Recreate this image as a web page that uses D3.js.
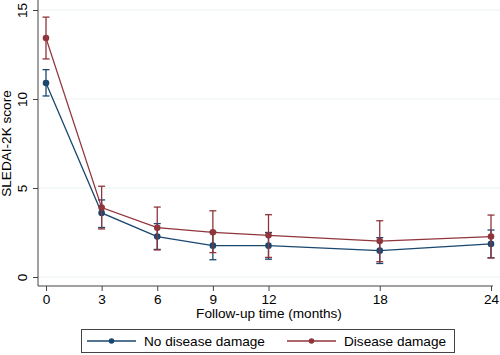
<!DOCTYPE html>
<html>
<head>
<meta charset="utf-8">
<script src="https://cdn.jsdelivr.net/npm/d3@7"></script>
<style>
  body { margin: 0; background: #fff; }
  svg { display: block; font-family: "Liberation Sans", Arial, sans-serif; }
</style>
</head>
<body>
<div id="chart"></div>
<script>
const months = [0, 3, 6, 9, 12, 18, 24];
const yTicks = [0, 5, 10, 15];

const noDamageMean = [10.9, 3.6, 2.27, 1.76, 1.76, 1.48, 1.86];
const noDamageLow  = [10.17, 2.78, 1.55, 0.97, 1.0, 0.76, 1.08];
const noDamageHigh = [11.65, 4.33, 3.0, 2.55, 2.5, 2.21, 2.64];

const damageMean = [13.42, 3.9, 2.77, 2.51, 2.34, 2.02, 2.27];
const damageLow  = [12.25, 2.7, 1.52, 1.37, 1.1, 0.86, 1.07];
const damageHigh = [14.6, 5.1, 3.93, 3.72, 3.5, 3.16, 3.48];

const seriesNames = ["No disease damage", "Disease damage"];
const colors = ["#1a476f", "#90353b"];

const W = 500, H = 355;
const fs = "13.6px";
const svg = d3.select("#chart").append("svg")
  .attr("width", W).attr("height", H);

const axisX = 38, axisY = 286;
const x = d3.scaleLinear().domain([0, 24]).range([46, 491]);
const y = d3.scaleLinear().domain([0, 15]).range([277, 10]);

// gridlines
svg.append("g").selectAll("line")
  .data(yTicks).enter().append("line")
  .attr("x1", axisX).attr("x2", W)
  .attr("y1", d => y(d)).attr("y2", d => y(d))
  .attr("stroke", "#eaf2f3").attr("stroke-width", 1.2);

// y axis
const gy = svg.append("g")
  .attr("transform", `translate(${axisX},0)`)
  .call(d3.axisLeft(y).tickValues(yTicks).tickSize(5).tickPadding(3));
gy.select(".domain").attr("d", `M0,0V${axisY}`).attr("stroke", "#444");
gy.selectAll(".tick line").attr("stroke", "#444");
gy.selectAll("text")
  .attr("transform", "rotate(-90)")
  .attr("x", 0).attr("y", -16)
  .attr("dy", "0.35em")
  .style("text-anchor", "middle")
  .style("font-size", fs)
  .attr("fill", "#000");

// x axis
const gx = svg.append("g")
  .attr("transform", `translate(0,${axisY})`)
  .call(d3.axisBottom(x).tickValues(months).tickSize(5).tickPadding(3));
gx.select(".domain").attr("d", `M${axisX},0H493`).attr("stroke", "#444");
gx.selectAll(".tick line").attr("stroke", "#444");
gx.selectAll("text").style("font-size", fs).attr("fill", "#000");

// axis titles
svg.append("text")
  .attr("x", 269).attr("y", 318)
  .attr("text-anchor", "middle")
  .style("font-size", fs)
  .text("Follow-up time (months)");

svg.append("text")
  .attr("transform", `translate(11,${y(7.5)}) rotate(-90)`)
  .attr("text-anchor", "middle")
  .style("font-size", fs)
  .text("SLEDAI-2K score");

const series = [
  { name: seriesNames[0], color: colors[0], mean: noDamageMean, low: noDamageLow, high: noDamageHigh },
  { name: seriesNames[1], color: colors[1], mean: damageMean, low: damageLow, high: damageHigh }
];

const line = d3.line()
  .x(d => x(d.m))
  .y(d => y(d.v));

series.forEach(s => {
  const pts = months.map((m, i) => ({ m, v: s.mean[i], lo: s.low[i], hi: s.high[i] }));
  const g = svg.append("g");

  g.append("path")
    .datum(pts)
    .attr("fill", "none")
    .attr("stroke", s.color)
    .attr("stroke-width", 1.3)
    .attr("d", line);

  // error bars
  const eb = g.selectAll("g.eb").data(pts).enter().append("g");
  eb.append("line")
    .attr("x1", d => x(d.m)).attr("x2", d => x(d.m))
    .attr("y1", d => y(d.lo)).attr("y2", d => y(d.hi))
    .attr("stroke", s.color).attr("stroke-width", 1.3);
  ["lo", "hi"].forEach(k => {
    eb.append("line")
      .attr("x1", d => x(d.m) - 3.5).attr("x2", d => x(d.m) + 3.5)
      .attr("y1", d => y(d[k])).attr("y2", d => y(d[k]))
      .attr("stroke", s.color).attr("stroke-width", 1.3);
  });

  g.selectAll("circle").data(pts).enter().append("circle")
    .attr("cx", d => x(d.m)).attr("cy", d => y(d.v))
    .attr("r", 3.3)
    .attr("fill", s.color);
});

// legend
const leg = svg.append("g");
leg.append("rect")
  .attr("x", 81.5).attr("y", 329.5)
  .attr("width", 373).attr("height", 23)
  .attr("fill", "#fff").attr("stroke", "#444").attr("stroke-width", 1);

const legX = [87, 287];
series.forEach((s, i) => {
  const lx = legX[i];
  leg.append("line")
    .attr("x1", lx).attr("x2", lx + 49)
    .attr("y1", 341).attr("y2", 341)
    .attr("stroke", s.color).attr("stroke-width", 1.3);
  leg.append("circle")
    .attr("cx", lx + 24.5).attr("cy", 341).attr("r", 2.8)
    .attr("fill", s.color);
  leg.append("text")
    .attr("x", lx + 57).attr("y", 341)
    .attr("dy", "0.35em")
    .style("font-size", fs)
    .text(s.name);
});
</script>
</body>
</html>
